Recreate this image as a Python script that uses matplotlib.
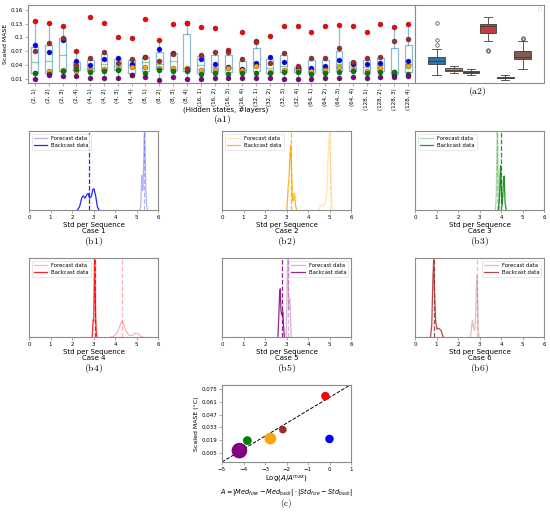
import matplotlib
matplotlib.use("Agg")
import matplotlib.pyplot as plt
import numpy as np

W, H = 550, 513

# ---------------- data ----------------
configs = ["(2, 1)", "(2, 2)", "(2, 3)", "(2, 4)", "(4, 1)", "(4, 2)", "(4, 3)", "(4, 4)",
           "(8, 1)", "(8, 2)", "(8, 3)", "(8, 4)", "(16, 1)", "(16, 2)", "(16, 3)", "(16, 4)",
           "(32, 1)", "(32, 2)", "(32, 3)", "(32, 4)", "(64, 1)", "(64, 2)", "(64, 3)", "(64, 4)",
           "(128, 1)", "(128, 2)", "(128, 3)", "(128, 4)"]

case1 = [0.083, 0.068, 0.094, 0.048, 0.039, 0.052, 0.055, 0.042, 0.057, 0.075, 0.067, 0.131, 0.052, 0.043,
         0.035, 0.032, 0.044, 0.057, 0.047, 0.033, 0.034, 0.038, 0.050, 0.042, 0.042, 0.045, 0.018, 0.048]
case2 = [0.022, 0.027, 0.030, 0.027, 0.029, 0.031, 0.031, 0.036, 0.036, 0.034, 0.034, 0.034, 0.028, 0.029,
         0.033, 0.028, 0.038, 0.024, 0.028, 0.028, 0.027, 0.030, 0.035, 0.028, 0.027, 0.034, 0.024, 0.037]
case3 = [0.022, 0.021, 0.027, 0.032, 0.025, 0.027, 0.029, 0.019, 0.023, 0.029, 0.027, 0.026, 0.021, 0.022,
         0.021, 0.023, 0.022, 0.022, 0.024, 0.024, 0.021, 0.022, 0.024, 0.026, 0.022, 0.025, 0.024, 0.021]
case4 = [0.136, 0.131, 0.125, 0.070, 0.145, 0.131, 0.100, 0.099, 0.139, 0.094, 0.129, 0.132, 0.122, 0.121,
         0.073, 0.111, 0.092, 0.103, 0.124, 0.124, 0.112, 0.125, 0.127, 0.125, 0.112, 0.128, 0.123, 0.130]
case5 = [0.010, 0.018, 0.016, 0.016, 0.012, 0.011, 0.012, 0.018, 0.013, 0.008, 0.014, 0.010, 0.009, 0.012,
         0.011, 0.012, 0.011, 0.011, 0.009, 0.010, 0.009, 0.011, 0.011, 0.014, 0.011, 0.014, 0.013, 0.016]
case6 = [0.070, 0.087, 0.099, 0.039, 0.054, 0.068, 0.045, 0.053, 0.058, 0.049, 0.064, 0.031, 0.061, 0.068,
         0.069, 0.053, 0.089, 0.044, 0.067, 0.037, 0.055, 0.055, 0.076, 0.047, 0.055, 0.058, 0.093, 0.096]
case_colors = ["blue", "orange", "green", "red", "purple", "brown"]
a2_colors = ["#3274a1", "#e1812c", "#3a923a", "#c03d3e", "#9372b2", "#845b53"]
a1_yticks = [0.01, 0.04, 0.07, 0.1, 0.13, 0.16]
a1_yticklabels = ["0.01", "0.04", "0.07", "0.1", "0.13", "0.16"]

# KDE-like curves (b1..b6)
fore_x = [
    [5.15, 5.20, 5.24, 5.26, 5.29, 5.33, 5.36, 5.38, 5.40, 5.43, 5.47, 5.52],
    [4.50, 4.58, 4.65, 4.72, 4.80, 4.88, 4.95, 5.00, 5.05, 5.12],
    [3.74, 3.78, 3.81, 3.83, 3.85, 3.88, 3.92],
    [3.80, 3.95, 4.10, 4.20, 4.28, 4.33, 4.40, 4.50, 4.65, 4.80, 4.95, 5.00, 5.08, 5.20, 5.30],
    [2.98, 3.01, 3.04, 3.06, 3.09, 3.12, 3.15, 3.18, 3.22],
    [2.58, 2.63, 2.67, 2.72, 2.78, 2.83, 2.87, 2.90, 2.94, 2.98],
]
fore_y = [
    [0.0, 0.05, 0.40, 0.44, 0.25, 0.55, 0.92, 1.0, 0.75, 0.30, 0.06, 0.0],
    [0.0, 0.05, 0.07, 0.05, 0.08, 0.25, 0.80, 1.0, 0.55, 0.0],
    [0.0, 0.20, 0.75, 1.0, 0.80, 0.15, 0.0],
    [0.0, 0.01, 0.05, 0.12, 0.18, 0.20, 0.17, 0.08, 0.02, 0.02, 0.05, 0.05, 0.04, 0.01, 0.0],
    [0.0, 0.30, 0.85, 1.0, 0.60, 0.35, 0.49, 0.30, 0.0],
    [0.0, 0.12, 0.21, 0.12, 0.08, 0.35, 0.78, 0.60, 0.10, 0.0],
]
back_x = [
    [2.25, 2.35, 2.45, 2.52, 2.60, 2.68, 2.75, 2.82, 2.90, 2.97, 3.02, 3.10, 3.18, 3.26],
    [3.02, 3.08, 3.12, 3.16, 3.20, 3.24, 3.28, 3.32, 3.37, 3.42, 3.47],
    [3.88, 3.93, 3.96, 3.98, 4.01, 4.05, 4.09, 4.12, 4.15, 4.19, 4.24],
    [2.94, 2.97, 2.99, 3.01, 3.03, 3.05, 3.07, 3.10, 3.13, 3.17],
    [2.60, 2.64, 2.68, 2.71, 2.74, 2.77, 2.80, 2.83, 2.86, 2.90],
    [0.72, 0.78, 0.83, 0.87, 0.91, 0.96, 1.02, 1.08, 1.15, 1.22, 1.28, 1.33],
]
back_y = [
    [0.0, 0.04, 0.15, 0.18, 0.15, 0.19, 0.21, 0.15, 0.17, 0.26, 0.27, 0.18, 0.04, 0.0],
    [0.0, 0.30, 0.40, 0.70, 0.82, 0.45, 0.12, 0.12, 0.21, 0.06, 0.0],
    [0.0, 0.15, 0.45, 0.56, 0.30, 0.05, 0.20, 0.42, 0.43, 0.10, 0.0],
    [0.0, 0.15, 0.22, 0.20, 0.60, 1.0, 0.70, 0.25, 0.05, 0.0],
    [0.0, 0.25, 0.55, 0.61, 0.35, 0.28, 0.30, 0.32, 0.15, 0.0],
    [0.0, 0.15, 0.70, 1.0, 0.55, 0.20, 0.10, 0.11, 0.10, 0.08, 0.02, 0.0],
]
fore_median = [5.37, 5.00, 3.83, 4.33, 3.06, 2.88]
back_median = [2.77, 3.20, 3.98, 3.05, 2.77, 0.87]
legend_locs = ["upper left", "upper left", "upper left", "upper left", "upper right", "upper right"]

# panel (c)
c_logA = [0.0, -2.75, -3.82, -0.19, -4.19, -2.17]
c_mase = [0.0203, 0.0207, 0.0185, 0.0673, 0.0075, 0.0305]
c_sizes = [26, 55, 28, 26, 105, 20]
fit_slope = 0.01417
fit_intercept = 0.0659
c_yticks = [0.005, 0.019, 0.033, 0.047, 0.061, 0.075]

# ---------------- drawing ----------------
fig = plt.figure(figsize=(W / 100, H / 100), dpi=100)
SPINE = "0.55"


def px_axes(x0, y0, x1, y1):
    return fig.add_axes([x0 / W, 1 - y1 / H, (x1 - x0) / W, (y1 - y0) / H])


def style(ax):
    for s in ax.spines.values():
        s.set_color(SPINE)
        s.set_linewidth(0.8)
    ax.tick_params(length=2, width=0.5, color=SPINE, labelsize=4, pad=1.5)


cases = [case1, case2, case3, case4, case5, case6]

# (a1)
ax1 = px_axes(28, 4.7, 415, 83.3)
style(ax1)
per_cfg = [[c[i] for c in cases] for i in range(len(configs))]
pos = np.arange(len(configs))
bc = (0.12, 0.47, 0.71, 0.5)
mc = (0.17, 0.63, 0.17, 0.5)
ax1.boxplot(per_cfg, positions=pos, widths=0.5, showfliers=False,
            boxprops=dict(color=bc, linewidth=0.9),
            whiskerprops=dict(color=bc, linewidth=0.9),
            capprops=dict(color=bc, linewidth=0.9),
            medianprops=dict(color=mc, linewidth=0.9))
for vals, col in zip(cases, case_colors):
    ax1.scatter(pos, vals, s=13, color=col, edgecolors=(0.15, 0.15, 0.15, 0.6),
                linewidths=0.4, zorder=3)
ax1.set_xlim(-0.5, len(configs) - 0.5)
ax1.set_ylim(0.0, 0.171)
ax1.set_yticks(a1_yticks)
ax1.set_yticklabels(a1_yticklabels)
ax1.set_xticks(pos)
ax1.set_xticklabels(configs, rotation=90)
ax1.set_ylabel("Scaled MASE", fontsize=4.5, labelpad=2)
fig.text(226 / W, 1 - 110 / H, "(Hidden states, #layers)", fontsize=5, ha="center", va="center")
fig.text(222 / W, 1 - 119.5 / H, r"$\mathrm{(a1)}$", math_fontfamily="cm", fontsize=7,
         ha="center", va="center")

# (a2)
ax2 = px_axes(415, 4.7, 544, 83.3)
style(ax2)
slot = 0.8 / 6
pos2 = [-0.4 + slot / 2 + slot * i for i in range(6)]
bp = ax2.boxplot(cases, positions=pos2, widths=slot * 0.97, patch_artist=True,
                 boxprops=dict(edgecolor="#3d3d3d", linewidth=0.6),
                 whiskerprops=dict(color="#3d3d3d", linewidth=0.6),
                 capprops=dict(color="#3d3d3d", linewidth=0.6),
                 medianprops=dict(color="#3d3d3d", linewidth=0.6),
                 flierprops=dict(marker="o", markersize=2.5, markerfacecolor="none",
                                 markeredgecolor="#3d3d3d", markeredgewidth=0.5))
for patch, col in zip(bp["boxes"], a2_colors):
    patch.set_facecolor(col)
ax2.set_xlim(-0.5, 0.5)
ax2.set_ylim(0.0, 0.171)
ax2.set_xticks([])
ax2.set_yticks([])
leg = ax2.legend(handles=[], labels=[], loc="upper right", fontsize=4, borderpad=0.3)
leg.get_frame().set_linewidth(0.4)
fig.text(477 / W, 1 - 92 / H, r"$\mathrm{(a2)}$", math_fontfamily="cm", fontsize=7,
         ha="center", va="center")

# (b1)..(b6)
b_boxes = [(29, 131, 158, 210), (222, 131, 351, 210), (415, 131, 544, 210),
           (29, 258, 158, 337), (222, 258, 351, 337), (415, 258, 544, 337)]
for k in range(6):
    x0, y0, x1, y1 = b_boxes[k]
    ax = px_axes(x0, y0, x1, y1)
    style(ax)
    col = case_colors[k]
    ax.plot(fore_x[k], fore_y[k], color=col, alpha=0.3, linewidth=0.9, label="Forecast data")
    ax.plot(back_x[k], back_y[k], color=col, alpha=0.85, linewidth=0.9, label="Backcast data")
    ax.axvline(fore_median[k], color=col, alpha=0.3, linestyle="--", linewidth=0.9)
    ax.axvline(back_median[k], color=col, alpha=0.85, linestyle="--", linewidth=0.9)
    ax.set_xlim(0, 6)
    ax.set_ylim(0, 1.0)
    ax.set_xticks(range(7))
    ax.set_yticks([])
    ax.set_xlabel("Std per Sequence\nCase %d" % (k + 1), fontsize=5, labelpad=1.5,
                  linespacing=1.1)
    lg = ax.legend(loc=legend_locs[k], fontsize=3.8, handlelength=2.5, borderpad=0.4,
                   labelspacing=0.4, framealpha=0.8)
    lg.get_frame().set_linewidth(0.4)
    fig.text((x0 + x1) / 2 / W, 1 - (y1 + 31.5) / H, r"$\mathrm{(b%d)}$" % (k + 1),
             math_fontfamily="cm", fontsize=7, ha="center", va="center")

# (c)
axc = px_axes(222, 385, 351, 462)
style(axc)
axc.axline((0, fit_intercept), slope=fit_slope, color="black", linestyle="--",
           linewidth=0.7, zorder=1)
axc.scatter(c_logA, c_mase, s=c_sizes, c=case_colors, zorder=3)
axc.set_xlim(-5, 1)
axc.set_ylim(-0.005, 0.0795)
axc.set_xticks(range(-5, 2))
axc.set_yticks(c_yticks)
axc.set_yticklabels(["%.3f" % v for v in c_yticks])
axc.set_xlabel(r"Log($A/A^{max}$)", fontsize=5, labelpad=1.5)
axc.set_ylabel("Scaled MASE (°C)", fontsize=4.5, labelpad=2)
fig.text(286 / W, 1 - 491.5 / H,
         r"$A = |Med_{fore} - Med_{back}| \cdot |Std_{fore} - Std_{back}|$",
         fontsize=4.7, ha="center", va="center")
fig.text(286 / W, 1 - 503.5 / H, r"$\mathrm{(c)}$", math_fontfamily="cm", fontsize=6.5,
         ha="center", va="center")

fig.savefig("out.png", dpi=100)
